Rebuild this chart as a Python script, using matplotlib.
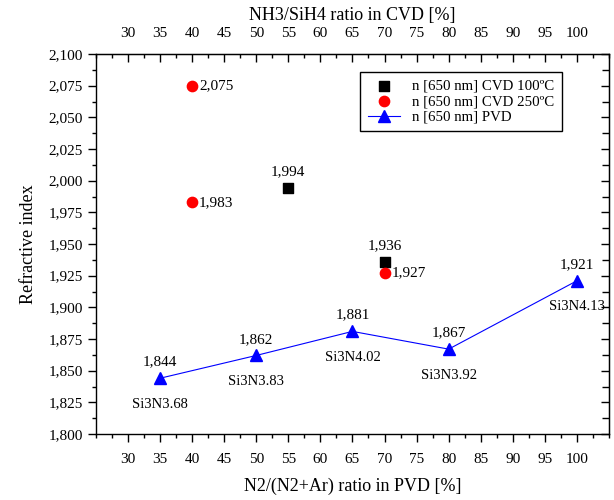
import matplotlib
matplotlib.use("Agg")
import matplotlib.pyplot as plt
from matplotlib.ticker import FuncFormatter, MultipleLocator

plt.rcParams["font.family"] = ["Liberation Serif", "DejaVu Serif"]

# CVD series (top axis)
cvd100_x = [55, 70]
cvd100_y = [1.994, 1.936]
cvd250_x = [40, 40, 70]
cvd250_y = [2.075, 1.983, 1.927]

# PVD series (bottom axis)
pvd_x = [35, 50, 65, 80, 100]
pvd_y = [1.844, 1.862, 1.881, 1.867, 1.921]
pvd_names = ["Si3N3.68", "Si3N3.83", "Si3N4.02", "Si3N3.92", "Si3N4.13"]


def comma(v, _pos=None, nd=3):
    return f"{v:.{nd}f}".replace(".", ",")


fig = plt.figure(figsize=(6.14, 5.0), dpi=100)
ax = fig.add_axes([0.156, 0.132, 0.836, 0.760])

ax.scatter(cvd100_x, cvd100_y, marker="s", s=45, color="black", zorder=3,
           label="n [650 nm] CVD 100ºC")
ax.scatter(cvd250_x, cvd250_y, marker="o", s=55, color="red", zorder=3,
           label="n [650 nm] CVD 250ºC")
ax.plot(pvd_x, pvd_y, color="blue", lw=0.8, marker="^", ms=8, zorder=3,
        label="n [650 nm] PVD")

fs = 11
# value labels
for x, y in zip(cvd250_x, cvd250_y):
    ax.annotate(comma(y), (x, y), xytext=(5, 0), textcoords="offset points",
                va="center", ha="left", fontsize=fs)
for x, y in zip(cvd100_x, cvd100_y):
    ax.annotate(comma(y), (x, y), xytext=(0, 7), textcoords="offset points",
                va="bottom", ha="center", fontsize=fs)
for x, y, name in zip(pvd_x, pvd_y, pvd_names):
    ax.annotate(comma(y), (x, y), xytext=(0, 7), textcoords="offset points",
                va="bottom", ha="center", fontsize=fs)
    ax.annotate(name, (x, y), xytext=(0, -14), textcoords="offset points",
                va="top", ha="center", fontsize=10.5)

ax.set_xlim(25, 105)
ax.set_ylim(1.8, 2.1)
ax.xaxis.set_minor_locator(MultipleLocator(2.5))
ax.yaxis.set_major_locator(MultipleLocator(0.025))
ax.yaxis.set_minor_locator(MultipleLocator(0.0125))
ax.yaxis.set_major_formatter(FuncFormatter(comma))
ax.set_xticks(range(30, 101, 5))
ax.tick_params(axis="both", which="major", direction="out", length=6,
               width=1, labelsize=fs)
ax.tick_params(axis="both", which="minor", direction="out", length=3, width=1)
ax.tick_params(axis="x", pad=8)

ax.set_xlabel("N2/(N2+Ar) ratio in PVD [%]", fontsize=13, labelpad=8)
ax.set_ylabel("Refractive index", fontsize=13, labelpad=8)

# top axis for CVD ratio
top = ax.secondary_xaxis("top")
top.set_xticks(range(30, 101, 5))
top.xaxis.set_minor_locator(MultipleLocator(2.5))
top.tick_params(which="major", direction="in", length=6, width=1,
                labelsize=fs, pad=10)
top.tick_params(which="minor", direction="in", length=3, width=1)
top.set_xlabel("NH3/SiH4 ratio in CVD [%]", fontsize=13, labelpad=5)

right = ax.secondary_yaxis("right")
right.yaxis.set_major_locator(MultipleLocator(0.025))
right.yaxis.set_minor_locator(MultipleLocator(0.0125))
right.tick_params(which="major", direction="in", length=6, width=1,
                  labelright=False)
right.tick_params(which="minor", direction="in", length=5, width=1)

for s in ax.spines.values():
    s.set_linewidth(1)

ax.legend(loc="upper right", bbox_to_anchor=(0.908, 0.953), borderaxespad=0,
          fontsize=10.7, frameon=True, fancybox=False, edgecolor="black",
          framealpha=1, handlelength=2.2, borderpad=0.5, labelspacing=0.15)

fig.savefig("out.png", dpi=100)
